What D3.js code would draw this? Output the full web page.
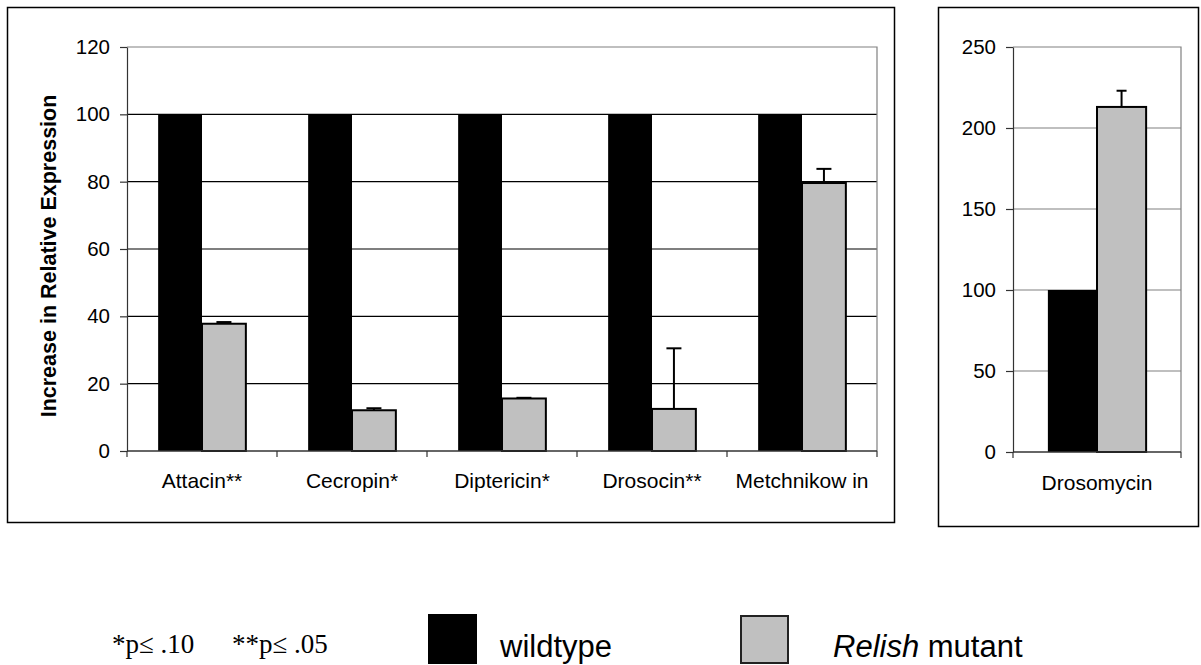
<!DOCTYPE html>
<html>
<head>
<meta charset="utf-8">
<script src="https://cdn.jsdelivr.net/npm/d3@7"></script>
<style>
body { margin:0; padding:0; background:#fff; }
svg { display:block; }
.tick text { font-family: "Liberation Sans", Arial, sans-serif; }
</style>
</head>
<body>
<svg id="chart" width="1201" height="665"></svg>
<script>
// data
var categories = ["Attacin**", "Cecropin*", "Diptericin*", "Drosocin**", "Metchnikow in"];
var series = ["wildtype", "Relish mutant"];
var wildtype = [100, 100, 100, 100, 100];
var relish = [37.8, 12.1, 15.6, 12.5, 79.6];
var relishErr = [0.5, 0.6, 0.2, 18, 4.2];
var leftTicks = [0, 20, 40, 60, 80, 100, 120];

var rightCategories = ["Drosomycin"];
var rightWildtype = [100];
var rightRelish = [213];
var rightRelishErr = [10];
var rightTicks = [0, 50, 100, 150, 200, 250];

var colors = { "wildtype": "#000", "Relish mutant": "#c0c0c0" };
var font = '"Liberation Sans", Arial, sans-serif';

var svg = d3.select("#chart");

// panel frames
svg.append("rect").attr("x", 7.5).attr("y", 7.5).attr("width", 887).attr("height", 515)
  .attr("fill", "none").attr("stroke", "#000").attr("stroke-width", 1.5);
svg.append("rect").attr("x", 938.5).attr("y", 7.5).attr("width", 260).attr("height", 519)
  .attr("fill", "none").attr("stroke", "#000").attr("stroke-width", 1.5);

function panel(opt) {
  var g = svg.append("g");
  var x0 = d3.scaleBand().domain(opt.cats).range([opt.left, opt.right]);
  var x1 = d3.scaleBand().domain(series).range([0, x0.bandwidth()]).paddingOuter(0.71);
  var y = d3.scaleLinear().domain([0, opt.max]).range([opt.bottom, opt.top]);

  // grid
  g.selectAll(".grid").data(opt.ticks.filter(function(d){ return d > 0 && d < opt.max; }))
    .enter().append("line")
    .attr("x1", opt.left).attr("x2", opt.right)
    .attr("y1", function(d){ return y(d); }).attr("y2", function(d){ return y(d); })
    .attr("stroke", opt.gridColor).attr("stroke-width", 1.2);

  // plot area top / right border
  g.append("path")
    .attr("d", "M" + opt.left + "," + y(opt.max) + "H" + opt.right + "V" + opt.bottom)
    .attr("fill", "none").attr("stroke", "#808080").attr("stroke-width", 1.2);

  var rows = opt.cats.map(function(c, i) {
    return { cat: c, vals: [
      { s: "wildtype", v: opt.wt[i], e: 0 },
      { s: "Relish mutant", v: opt.mu[i], e: opt.err[i] }
    ]};
  });

  var grp = g.selectAll(".cat").data(rows).enter().append("g")
    .attr("transform", function(d){ return "translate(" + x0(d.cat) + ",0)"; });

  grp.selectAll("rect").data(function(d){ return d.vals; }).enter().append("rect")
    .attr("x", function(d){ return x1(d.s); })
    .attr("width", x1.bandwidth())
    .attr("y", function(d){ return y(d.v); })
    .attr("height", function(d){ return y(0) - y(d.v); })
    .attr("fill", function(d){ return colors[d.s]; })
    .attr("stroke", "#000")
    .attr("stroke-width", function(d){ return d.s === "wildtype" ? 0 : 2; });

  // error bars (upper only)
  var eb = grp.selectAll(".err").data(function(d){ return d.vals.filter(function(v){ return v.e > 0; }); })
    .enter().append("g");
  eb.append("line")
    .attr("x1", function(d){ return x1(d.s) + x1.bandwidth() / 2; })
    .attr("x2", function(d){ return x1(d.s) + x1.bandwidth() / 2; })
    .attr("y1", function(d){ return y(d.v); })
    .attr("y2", function(d){ return y(d.v + d.e); })
    .attr("stroke", "#000").attr("stroke-width", 2);
  eb.append("line")
    .attr("x1", function(d){ return x1(d.s) + x1.bandwidth() / 2 - opt.cap / 2; })
    .attr("x2", function(d){ return x1(d.s) + x1.bandwidth() / 2 + opt.cap / 2; })
    .attr("y1", function(d){ return y(d.v + d.e); })
    .attr("y2", function(d){ return y(d.v + d.e); })
    .attr("stroke", "#000").attr("stroke-width", 2);

  // y axis
  var ya = g.append("g").attr("transform", "translate(" + opt.left + ",0)")
    .call(d3.axisLeft(y).tickValues(opt.ticks).tickSize(7).tickPadding(10).tickSizeOuter(0));
  ya.select(".domain").attr("stroke", "#333").attr("stroke-width", 1.2);
  ya.selectAll(".tick line").attr("stroke", "#333").attr("stroke-width", 1.2);
  ya.selectAll(".tick text").attr("font-size", 20.5).attr("fill", "#000");

  // x axis: baseline + ticks between categories
  g.append("line").attr("x1", opt.left).attr("x2", opt.right)
    .attr("y1", y(0)).attr("y2", y(0)).attr("stroke", "#333").attr("stroke-width", 1.5);
  var edges = opt.cats.map(function(c){ return x0(c); }).concat([opt.right]);
  g.selectAll(".xt").data(edges).enter().append("line")
    .attr("x1", function(d){ return d; }).attr("x2", function(d){ return d; })
    .attr("y1", y(0)).attr("y2", y(0) + 6)
    .attr("stroke", "#333").attr("stroke-width", 1.2);
  g.selectAll(".xl").data(opt.cats).enter().append("text")
    .attr("x", function(d){ return x0(d) + x0.bandwidth() / 2; })
    .attr("y", opt.labelY)
    .attr("text-anchor", "middle")
    .attr("font-family", font).attr("font-size", 21)
    .text(function(d){ return d; });
}

panel({ cats: categories, wt: wildtype, mu: relish, err: relishErr, ticks: leftTicks, max: 120,
  left: 127, right: 877, top: 47, bottom: 451, gridColor: "#000", cap: 15, labelY: 488 });
panel({ cats: rightCategories, wt: rightWildtype, mu: rightRelish, err: rightRelishErr, ticks: rightTicks, max: 250,
  left: 1013, right: 1181, top: 47, bottom: 452, gridColor: "#808080", cap: 10, labelY: 490 });

// y axis title
svg.append("text")
  .attr("transform", "translate(56,256) rotate(-90)")
  .attr("text-anchor", "middle")
  .attr("font-family", font).attr("font-weight", "bold").attr("font-size", 21.5)
  .text("Increase in Relative Expression");

// footnote + legend
svg.append("text").attr("x", 112).attr("y", 653)
  .attr("font-family", '"Liberation Serif", "Times New Roman", serif').attr("font-size", 27)
  .text("*p\u2264 .10");
svg.append("text").attr("x", 232).attr("y", 653)
  .attr("font-family", '"Liberation Serif", "Times New Roman", serif').attr("font-size", 27)
  .text("**p\u2264 .05");

svg.append("rect").attr("x", 428).attr("y", 614).attr("width", 49).attr("height", 50).attr("fill", "#000");
svg.append("text").attr("x", 500).attr("y", 657)
  .attr("font-family", font).attr("font-size", 31).text("wildtype");

svg.append("rect").attr("x", 741).attr("y", 616).attr("width", 47).attr("height", 47)
  .attr("fill", "#c0c0c0").attr("stroke", "#222").attr("stroke-width", 2);
var rt = svg.append("text").attr("x", 833).attr("y", 657)
  .attr("font-family", font).attr("font-size", 31);
rt.append("tspan").attr("font-style", "italic").text("Relish");
rt.append("tspan").text(" mutant");
</script>
</body>
</html>
